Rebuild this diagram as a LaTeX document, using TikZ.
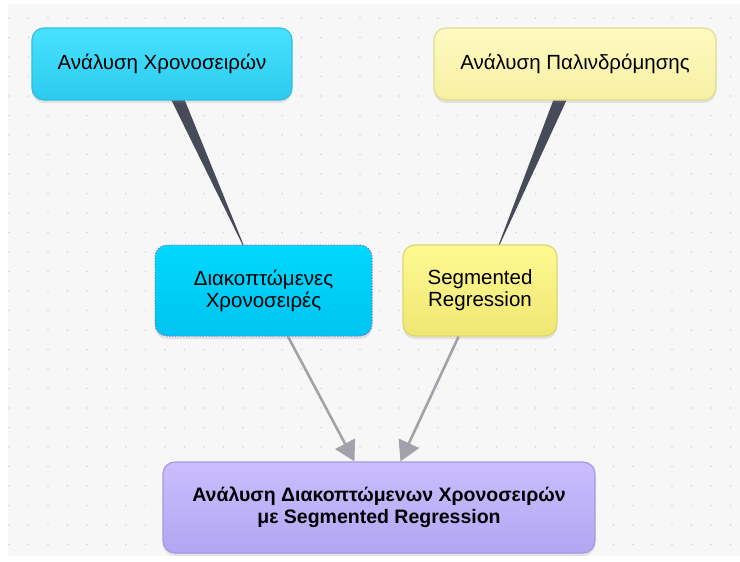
\documentclass[tikz,border=0pt]{standalone}
\usepackage{fontspec}
\setmainfont{Liberation Sans}
\usepackage{xcolor}
\usetikzlibrary{arrows.meta, calc, shadows}

\definecolor{canvas}{HTML}{F7F7F7}
\definecolor{griddot}{HTML}{D6D6D6}
\definecolor{cyanTop}{HTML}{48E2FF}
\definecolor{cyanBot}{HTML}{2CCAEE}
\definecolor{cyanLine}{HTML}{30BEE0}
\definecolor{cyanDeepTop}{HTML}{00D8FF}
\definecolor{cyanDeepBot}{HTML}{00C4F0}
\definecolor{dotLine}{HTML}{7A6FD8}
\definecolor{yelTop}{HTML}{FFFBC2}
\definecolor{yelBot}{HTML}{F6EFA2}
\definecolor{yelLine}{HTML}{E0DB8E}
\definecolor{yelDeepTop}{HTML}{FFF992}
\definecolor{yelDeepBot}{HTML}{EFE672}
\definecolor{yelDeepLine}{HTML}{DED672}
\definecolor{lilacTop}{HTML}{CABEFF}
\definecolor{lilacBot}{HTML}{B2A6F2}
\definecolor{lilacLine}{HTML}{A898E2}
\definecolor{taper}{HTML}{474B57}
\definecolor{flowgray}{HTML}{A2A2AA}

\pgfdeclarelayer{paper}
\pgfdeclarelayer{links}
\pgfsetlayers{paper,links,main}

\begin{document}
\begin{tikzpicture}[x=1pt, y=-1pt,
    box/.style={rounded corners=12pt, align=center, inner sep=0pt,
        font=\fontsize{20.5}{22}\selectfont,
        drop shadow={shadow xshift=0pt, shadow yshift=-3pt, opacity=0.18}},
    topic/.style={box, top color=cyanTop, bottom color=cyanBot, draw=cyanLine, line width=1.2pt},
    subtopic/.style={box, top color=cyanDeepTop, bottom color=cyanDeepBot, draw=dotLine,
        line width=1pt, dash pattern=on 1.2pt off 1.6pt},
    method/.style={box, top color=yelTop, bottom color=yelBot, draw=yelLine, line width=1.2pt},
    submethod/.style={box, top color=yelDeepTop, bottom color=yelDeepBot, draw=yelDeepLine, line width=1.2pt},
    result/.style={box, top color=lilacTop, bottom color=lilacBot, draw=lilacLine, line width=1.2pt,
        font=\fontsize{19.5}{22}\selectfont\bfseries},
    flow/.style={draw=flowgray, line width=2.6pt, -{Triangle[length=20pt, width=22pt]}}]

    \useasboundingbox (0,0) rectangle (740,562);

    % Paper with dot grid
    \begin{pgfonlayer}{paper}
        \fill[white] (0,0) rectangle (740,562);
        \fill[canvas] (8,4) rectangle (740,556);
        \foreach \i in {0,...,37} {
            \foreach \j in {0,...,27} {
                \fill[griddot] (9+19.5*\i, 18+19.5*\j) circle (0.9);
            }
        }
    \end{pgfonlayer}

    % Topics
    \node[topic, minimum width=260, minimum height=72] (tsa) at (162,64) {Ανάλυση Χρονοσειρών};
    \node[method, minimum width=282, minimum height=72] (reg) at (575,64) {Ανάλυση Παλινδρόμησης};

    % Sub-topics
    \node[subtopic, minimum width=217, minimum height=91] (its) at (263.5,290.5) {Διακοπτώμενες\\Χρονοσειρές};
    \node[submethod, minimum width=154, minimum height=91] (seg) at (480,290.5) {Segmented\\Regression};

    % Result
    \node[result, minimum width=432, minimum height=91] (itsa) at (379,507.5)
        {Ανάλυση Διακοπτώμενων Χρονοσειρών\\με Segmented Regression};

    % Tapered links
    \begin{pgfonlayer}{links}
        \fill[taper] ($(tsa.center)!7.5pt!90:(its.center)$) -- ($(tsa.center)!0.85!(its.center)$)
            -- ($(tsa.center)!7.5pt!-90:(its.center)$) -- cycle;
        \fill[taper] ($(reg.center)!7.5pt!90:(seg.center)$) -- ($(reg.center)!0.85!(seg.center)$)
            -- ($(reg.center)!7.5pt!-90:(seg.center)$) -- cycle;
    \end{pgfonlayer}

    % Arrows
    \draw[flow] (its) -- (itsa);
    \draw[flow] (seg) -- (itsa);
\end{tikzpicture}
\end{document}
